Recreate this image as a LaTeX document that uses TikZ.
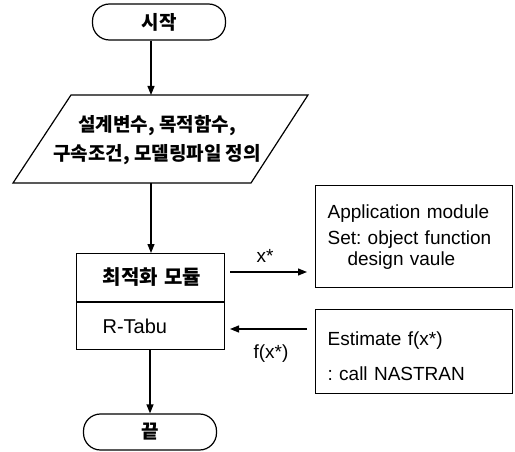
\documentclass[tikz,border=0pt]{standalone}
\usepackage{fontspec}
\setmainfont{Liberation Sans}
\newfontfamily\kr{Noto Sans CJK KR}
\usetikzlibrary{arrows.meta}
\frenchspacing
\begin{document}
\begin{tikzpicture}[x=1pt,y=-1pt,
  line width=1.2pt,
  arr/.style={-{Triangle[length=9pt,width=7pt]}},
  term/.style={draw,rounded corners=17pt,minimum width=133pt,minimum height=36pt,inner sep=0pt,font=\kr\bfseries\fontsize{19}{22}\selectfont},
  modbox/.style={draw,minimum width=148pt,minimum height=47.5pt,inner sep=0pt,anchor=north west,text width=124pt,align=left},
  appbox/.style={draw,minimum width=197pt,inner ysep=0pt,inner xsep=12pt,anchor=north west,text width=173pt,align=left,font=\fontsize{19}{21}\selectfont},
  lbl/.style={inner sep=0pt,font=\fontsize{19}{21}\selectfont}]
\useasboundingbox (0,0) rectangle (515,452);
% start
\node[term] (start) at (159,22) {시작};
% input parallelogram
\coordinate (pTL) at (71,95);
\coordinate (pTR) at (308,95);
\coordinate (pBR) at (251,183);
\coordinate (pBL) at (13,183);
\draw (pTL) -- (pTR) -- (pBR) -- (pBL) -- cycle;
\node[inner sep=0pt,align=center,font=\kr\bfseries\fontsize{19}{29}\selectfont] (inp) at (157,140) {설계변수, 목적함수,\\구속조건, 모델링파일 정의};
\coordinate (inpT) at (151,95);
\coordinate (inpB) at (151,183);
% module boxes
\node[modbox,font=\kr\bfseries\fontsize{20}{22}\selectfont] (modA) at (76,253) {\hspace*{14pt}최적화 모듈};
\node[modbox,font=\fontsize{20}{22}\selectfont,anchor=north] (modB) at (modA.south) {\hspace*{14pt}R-Tabu};
% end
\node[term] (end) at (150,432) {끝};
% right boxes
\node[appbox,minimum height=102pt] (app) at (315,185) {Application module\\[5pt]Set: object function\\\hspace*{20pt}design vaule};
\node[appbox,minimum height=84pt] (est) at (315,309) {\mbox{}\\[2pt]Estimate f(x*)\\[14pt]: call NASTRAN};
% connectors
\draw[arr] (start.south -| inpT) -- (inpT);
\draw[arr] (inpB) -- (inpB |- modA.north);
\draw[arr] (modB.south -| end.north) -- (end.north);
\coordinate (xa) at (230,272);
\coordinate (xb) at (307,272);
\coordinate (fa) at (307,329);
\coordinate (fb) at (230,329);
\draw[arr] (xa) -- (xb);
\draw[arr] (fa) -- (fb);
\node[lbl] (xl) at (265,256) {x*};
\node[lbl] (fl) at (271,354) {f(x*)};
\end{tikzpicture}
\end{document}
